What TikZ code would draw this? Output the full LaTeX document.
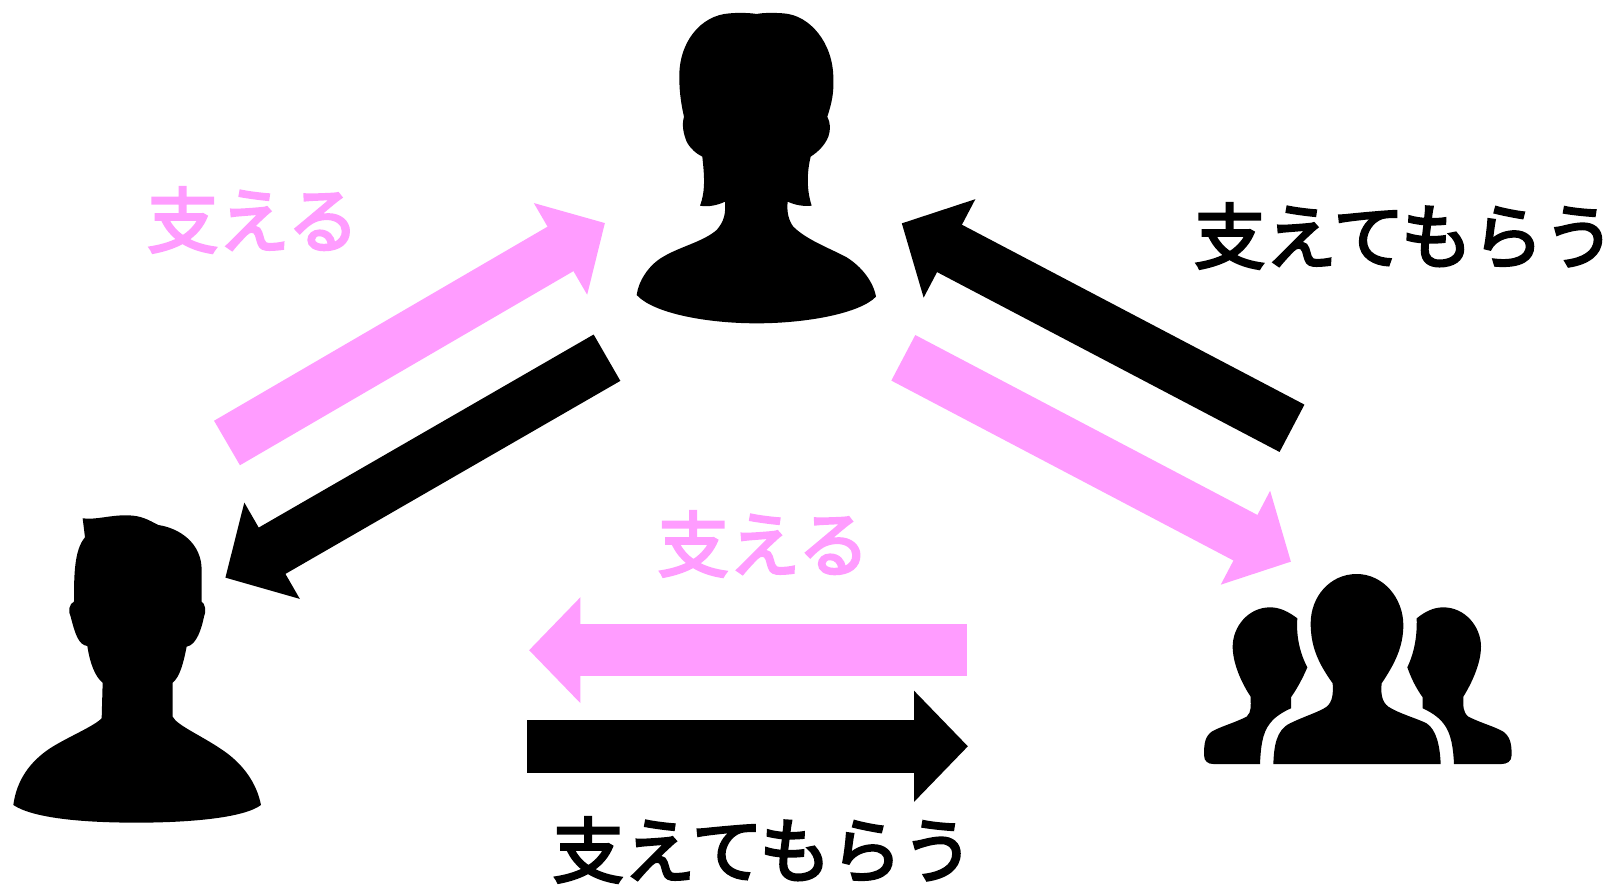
\documentclass[tikz,border=0pt]{standalone}
\usepackage{fontspec}
\usepackage{xcolor}
\usetikzlibrary{arrows.meta}
\newfontfamily\cjk[FakeBold=3.5]{Noto Sans CJK JP}
\definecolor{supportpink}{HTML}{FF9CFF}
\tikzset{
    pinkarrow/.style={line width=1.03cm, supportpink, -{Triangle[length=1.03cm, width=2.06cm]}},
    blackarrow/.style={line width=1.07cm, black, -{Triangle[length=1.08cm, width=2.16cm]}},
    label/.style={inner sep=0pt, font=\cjk\fontsize{40.6}{46}\selectfont}
}

\begin{document}
\begin{tikzpicture}[x=0.02cm, y=-0.02cm]
    \useasboundingbox (0, 0) rectangle (1620, 885);

    % woman
    \begin{scope}[shift={(620, 0)}, scale=1/3]
        \fill (410,42) .. controls (385,38) and (350,38) .. (330,40)
            .. controls (240,45) and (175,130) .. (178,235)
            .. controls (178,280) and (185,320) .. (192,350)
            .. controls (185,375) and (190,400) .. (200,425)
            .. controls (210,445) and (230,462) .. (247,470)
            .. controls (252,520) and (258,570) .. (240,617)
            .. controls (265,622) and (295,615) .. (315,605)
            .. controls (318,640) and (312,665) .. (290,690)
            .. controls (250,725) and (180,740) .. (130,770)
            .. controls (85,795) and (55,845) .. (50,885)
            .. controls (100,940) and (260,970) .. (410,970)
            .. controls (560,970) and (720,940) .. (768,890)
            .. controls (760,845) and (725,800) .. (680,772)
            .. controls (630,745) and (560,720) .. (520,680)
            .. controls (505,660) and (500,635) .. (503,605)
            .. controls (525,615) and (550,620) .. (575,617)
            .. controls (560,570) and (560,520) .. (572,470)
            .. controls (595,455) and (615,435) .. (625,410)
            .. controls (632,390) and (632,370) .. (622,350)
            .. controls (635,310) and (642,280) .. (640,235)
            .. controls (640,130) and (570,45) .. (490,40)
            .. controls (460,38) and (430,38) .. (410,42) -- cycle;
    \end{scope}

    % man
    \begin{scope}[shift={(0, 500)}, scale=1/3]
        \fill (248,55) .. controls (290,60) and (330,45) .. (380,46)
            .. controls (425,46) and (445,60) .. (475,75)
            .. controls (540,85) and (605,130) .. (605,210)
            -- (605,305)
            .. controls (615,310) and (620,335) .. (612,350)
            .. controls (605,385) and (590,435) .. (560,440)
            .. controls (550,490) and (540,530) .. (518,548)
            -- (518,650)
            .. controls (530,675) and (600,705) .. (660,745)
            .. controls (730,790) and (770,850) .. (783,915)
            .. controls (730,955) and (560,968) .. (410,968)
            .. controls (250,968) and (100,955) .. (40,915)
            .. controls (50,840) and (90,785) .. (150,745)
            .. controls (205,710) and (280,680) .. (305,655)
            -- (308,548)
            .. controls (285,530) and (270,490) .. (262,438)
            .. controls (235,435) and (225,400) .. (212,350)
            .. controls (203,335) and (208,310) .. (222,305)
            .. controls (222,230) and (222,150) .. (255,112) -- cycle;
    \end{scope}

    % group
    \begin{scope}[shift={(1190, 560)}, scale=1/3]
        \fill (500,42) .. controls (580,42) and (640,115) .. (640,195)
            .. controls (640,260) and (615,310) .. (575,370)
            .. controls (572,400) and (575,425) .. (595,440)
            .. controls (625,460) and (680,475) .. (710,490)
            .. controls (740,510) and (750,560) .. (752,612)
            -- (250,612)
            .. controls (252,560) and (258,510) .. (300,490)
            .. controls (340,470) and (390,455) .. (410,440)
            .. controls (428,425) and (430,400) .. (428,370)
            .. controls (385,310) and (362,260) .. (362,190)
            .. controls (362,110) and (420,42) .. (500,42) -- cycle;
        \fill (322,175) .. controls (295,155) and (270,142) .. (240,142)
            .. controls (175,142) and (128,200) .. (128,260)
            .. controls (128,310) and (155,370) .. (182,410)
            .. controls (182,440) and (185,455) .. (170,470)
            .. controls (130,490) and (90,500) .. (65,515)
            .. controls (45,530) and (42,550) .. (42,585)
            .. controls (42,605) and (55,612) .. (70,612)
            -- (210,612)
            .. controls (212,570) and (215,520) .. (240,490)
            .. controls (255,470) and (280,455) .. (303,445)
            -- (303,412)
            .. controls (325,380) and (340,350) .. (352,322)
            .. controls (330,280) and (318,230) .. (322,175) -- cycle;
        \fill (680,175) .. controls (705,155) and (730,142) .. (760,142)
            .. controls (825,142) and (873,200) .. (873,260)
            .. controls (873,310) and (845,370) .. (820,410)
            .. controls (820,440) and (818,455) .. (835,470)
            .. controls (875,490) and (915,500) .. (940,515)
            .. controls (960,530) and (965,550) .. (965,585)
            .. controls (965,605) and (950,612) .. (935,612)
            -- (792,612)
            .. controls (790,570) and (785,520) .. (760,490)
            .. controls (745,470) and (720,455) .. (698,445)
            -- (698,412)
            .. controls (675,380) and (662,350) .. (652,322)
            .. controls (672,280) and (682,230) .. (680,175) -- cycle;
    \end{scope}

    % arrow ends
    \coordinate (manout) at (227, 443);
    \coordinate (womanin) at (605, 223);
    \coordinate (womanout) at (607, 357.7);
    \coordinate (manin) at (225.3, 577.7);
    \coordinate (groupout) at (1292, 428.3);
    \coordinate (womanright) at (901.7, 223.3);
    \coordinate (womanback) at (903.3, 357.8);
    \coordinate (groupin) at (1291, 561.7);
    \coordinate (pinkstart) at (966.7, 650.2);
    \coordinate (pinkend) at (529, 650.2);
    \coordinate (blackstart) at (527.3, 746.3);
    \coordinate (blackend) at (968, 746.3);

    \draw[pinkarrow] (manout) -- (womanin);
    \draw[blackarrow] (womanout) -- (manin);
    \draw[blackarrow] (groupout) -- (womanright);
    \draw[pinkarrow] (womanback) -- (groupin);
    \draw[pinkarrow] (pinkstart) -- (pinkend);
    \draw[blackarrow] (blackstart) -- (blackend);

    \node[label, text=supportpink] (pinkleft) at (253, 220) {支える};
    \node[label, text=supportpink] (pinkmid) at (763.5, 544) {支える};
    \node[label] (blackright) at (1404.5, 236) {支えてもらう};
    \node[label] (blackbottom) at (763, 850) {支えてもらう};
\end{tikzpicture}
\end{document}
